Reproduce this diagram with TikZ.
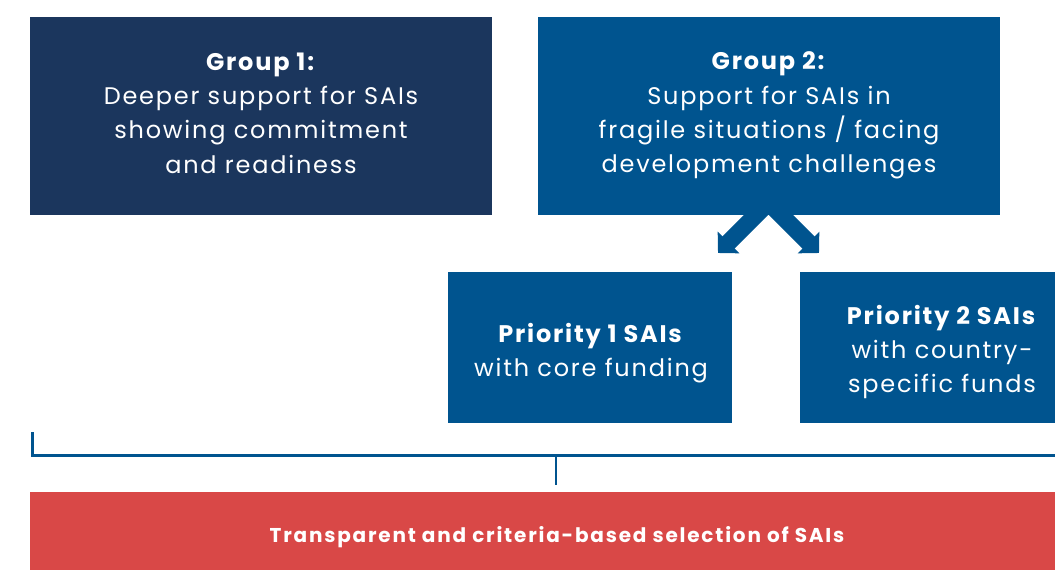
\documentclass[tikz,border=0pt]{standalone}
\usepackage{fontspec}
\setmainfont{Poppins}[LetterSpace=7.5]
\newfontfamily\redfont{Poppins}[LetterSpace=9]
\usetikzlibrary{arrows.meta}
\definecolor{navy}{RGB}{27,54,93}
\definecolor{midblue}{RGB}{0,84,143}
\definecolor{redbox}{RGB}{217,72,71}
\tikzset{
  panel/.style={anchor=north west, inner sep=0pt, outer sep=0pt, draw=none},
  bodytext/.style={text=white, align=center, inner sep=0pt, font=\fontsize{24}{34.3}\selectfont},
  redtext/.style={text=white, align=center, inner sep=0pt, font=\redfont\fontsize{20}{24}\selectfont\bfseries},
  fatarrow/.style={midblue, line width=17pt, -{Triangle[width=29.7pt,length=14.85pt]}},
  bracket/.style={midblue, line width=3pt, line join=miter},
  ticker/.style={midblue, line width=2.5pt}
}
\begin{document}
\begin{tikzpicture}[x=1pt,y=-1pt]
\useasboundingbox (0,0) rectangle (1055,570);
% panels
\node[panel, fill=navy, minimum width=462pt, minimum height=198pt] (g1) at (30,17) {};
\node[panel, fill=midblue, minimum width=462pt, minimum height=198pt] (g2) at (538,17) {};
\node[panel, fill=midblue, minimum width=284pt, minimum height=151pt] (p1) at (448,272) {};
\node[panel, fill=midblue, minimum width=255pt, minimum height=151pt] (p2) at (800,272) {};
\node[panel, fill=redbox, minimum width=1025pt, minimum height=78pt] (sel) at (30,492) {};
% texts
\node[bodytext] (g1t) at (261,113) {\textbf{Group 1:}\\Deeper support for SAIs\\showing commitment\\and readiness};
\node[bodytext] (g2t) at (769,115.5) {\textbf{Group 2:}\\Support for SAIs in\\fragile situations / facing\\development challenges};
\node[bodytext] (p1t) at (591,353) {\textbf{Priority 1 SAIs}\\with core funding};
\node[bodytext] (p2t) at (942,352) {\textbf{Priority 2 SAIs}\\with country-\\specific funds};
\node[redtext] (selt) at (557,537) {Transparent and criteria-based selection of SAIs};
% arrows
\coordinate (aL0) at (775,196);
\coordinate (aL1) at (718,253);
\coordinate (aR0) at (762,196);
\coordinate (aR1) at (819,253);
\draw[fatarrow] (aL0) -- (aL1);
\draw[fatarrow] (aR0) -- (aR1);
% bracket
\coordinate (b0) at (32,432);
\coordinate (b1) at (32,455);
\coordinate (b2) at (1055,455);
\coordinate (t0) at (556,456);
\coordinate (t1) at (556,485);
\draw[bracket] (b0) -- (b1) -- (b2);
\draw[ticker] (t0) -- (t1);
\end{tikzpicture}
\end{document}
